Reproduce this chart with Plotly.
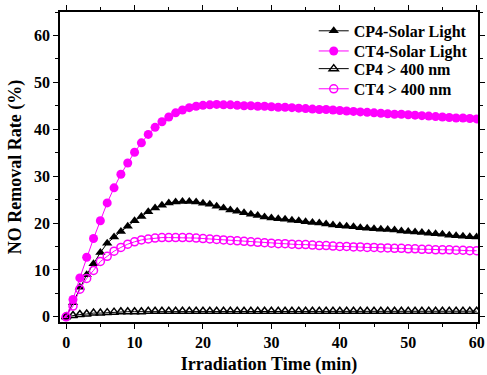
import plotly.graph_objects as go

time_min = list(range(0, 61))

cp4_solar = [0.0, 3.0, 6.3, 9.0, 11.3, 13.7, 15.7, 17.0, 18.2, 19.3,
             20.5, 21.4, 22.4, 23.2, 23.8, 24.3, 24.5, 24.6, 24.6, 24.5,
             24.2, 24.0, 23.6, 23.2, 22.8, 22.5, 22.2, 21.9, 21.6, 21.3,
             21.1, 20.9, 20.8, 20.6, 20.5, 20.3, 20.1, 20.0, 19.8, 19.6,
             19.4, 19.3, 19.2, 19.0, 18.9, 18.8, 18.7, 18.6, 18.5, 18.3,
             18.2, 18.1, 18.0, 17.8, 17.7, 17.6, 17.4, 17.3, 17.2, 17.1,
             17.0]

ct4_solar = [0.0, 3.7, 8.3, 12.7, 16.7, 20.5, 24.3, 27.5, 30.4, 32.8,
             35.1, 37.1, 38.9, 40.4, 41.6, 42.6, 43.5, 44.1, 44.6, 44.9,
             45.1, 45.2, 45.3, 45.2, 45.2, 45.1, 45.0, 45.0, 44.9, 44.9,
             44.8, 44.7, 44.7, 44.6, 44.5, 44.4, 44.3, 44.2, 44.2, 44.1,
             44.0, 43.9, 43.8, 43.7, 43.6, 43.5, 43.4, 43.3, 43.2, 43.2,
             43.1, 43.0, 42.9, 42.8, 42.7, 42.6, 42.5, 42.4, 42.4, 42.3,
             42.2]

cp4_vis = [0.0, 0.3, 0.5, 0.6, 0.8, 0.8, 0.9, 1.0, 1.1, 1.1,
           1.1, 1.1, 1.2, 1.2, 1.2, 1.2, 1.2, 1.2, 1.2, 1.2,
           1.2, 1.2, 1.2, 1.2, 1.2, 1.2, 1.2, 1.2, 1.2, 1.2,
           1.2, 1.2, 1.2, 1.2, 1.2, 1.2, 1.2, 1.2, 1.2, 1.2,
           1.2, 1.2, 1.2, 1.2, 1.2, 1.2, 1.2, 1.2, 1.2, 1.2,
           1.2, 1.2, 1.2, 1.2, 1.2, 1.2, 1.2, 1.2, 1.2, 1.2,
           1.2]

ct4_vis = [0.0, 2.3, 5.9, 8.2, 9.9, 11.8, 12.9, 14.0, 14.8, 15.5,
           16.0, 16.4, 16.6, 16.8, 16.9, 16.9, 16.9, 16.9, 16.9, 16.8,
           16.7, 16.6, 16.5, 16.4, 16.3, 16.2, 16.1, 16.0, 15.9, 15.8,
           15.7, 15.6, 15.6, 15.5, 15.4, 15.4, 15.3, 15.2, 15.2, 15.1,
           15.0, 15.0, 14.9, 14.9, 14.8, 14.8, 14.7, 14.7, 14.6, 14.6,
           14.5, 14.5, 14.4, 14.4, 14.3, 14.3, 14.3, 14.2, 14.2, 14.1,
           14.1]

series_names = ["CP4-Solar Light", "CT4-Solar Light", "CP4 > 400 nm", "CT4 > 400 nm"]

BLACK = "#000000"
MAG = "#ff00ff"
FONT = "Liberation Serif"

fig = go.Figure()

fig.add_trace(go.Scatter(
    x=time_min, y=cp4_solar, name=series_names[0], mode="lines+markers",
    line=dict(color=BLACK, width=1), legend="legend",
    marker=dict(symbol="triangle-up", size=9, color=BLACK, line=dict(width=0)),
))
fig.add_trace(go.Scatter(
    x=time_min, y=ct4_solar, name=series_names[1], mode="lines+markers",
    line=dict(color=MAG, width=1), legend="legend2",
    marker=dict(symbol="circle", size=9, color=MAG, line=dict(width=0)),
))
fig.add_trace(go.Scatter(
    x=time_min, y=cp4_vis, name=series_names[2], mode="lines+markers",
    line=dict(color=BLACK, width=1), legend="legend3",
    marker=dict(symbol="triangle-up-open", size=8, color=BLACK, line=dict(width=1.5, color=BLACK)),
))
fig.add_trace(go.Scatter(
    x=time_min, y=ct4_vis, name=series_names[3], mode="lines+markers",
    line=dict(color=MAG, width=1), legend="legend4",
    marker=dict(symbol="circle-open", size=8, color=MAG, line=dict(width=1.5, color=MAG)),
))

axis_common = dict(
    showline=True, linecolor=BLACK, linewidth=1.5, mirror="ticks",
    ticks="outside", ticklen=5, tickwidth=1.2, tickcolor=BLACK,
    showgrid=False, zeroline=False, automargin=False,
    tickfont=dict(family=FONT, size=16, color=BLACK, weight="bold"),
    minor=dict(ticks="outside", ticklen=3, tickwidth=1, tickcolor=BLACK),
)

fig.update_xaxes(
    range=[-0.9, 60.2], tickvals=[0, 10, 20, 30, 40, 50, 60],
    minor_dtick=5,
    title=dict(text="Irradiation Time (min)", standoff=12,
               font=dict(family=FONT, size=18, color=BLACK, weight="bold")),
    **axis_common,
)
fig.update_yaxes(
    range=[-1.1, 65], tickvals=[0, 10, 20, 30, 40, 50, 60],
    minor_dtick=5,
    title=dict(text="NO Removal Rate (%)", standoff=8,
               font=dict(family=FONT, size=18, color=BLACK, weight="bold")),
    **axis_common,
)

legend_style = dict(
    xanchor="left", yanchor="middle", x=0.607,
    bgcolor="rgba(0,0,0,0)", borderwidth=0,
    font=dict(family=FONT, size=16, color=BLACK, weight="bold"),
    itemwidth=30,
)

fig.update_layout(
    width=487, height=375,
    margin=dict(l=60, r=9, t=12, b=53, autoexpand=False),
    plot_bgcolor="white", paper_bgcolor="white",
    showlegend=True,
    legend=dict(y=0.939, **legend_style),
    legend2=dict(y=0.874, **legend_style),
    legend3=dict(y=0.817, **legend_style),
    legend4=dict(y=0.752, **legend_style),
)

fig.write_html(
    "out.html",
    config={"displayModeBar": False},
    post_script="document.body.style.margin='0';document.body.style.overflow='hidden';",
)
